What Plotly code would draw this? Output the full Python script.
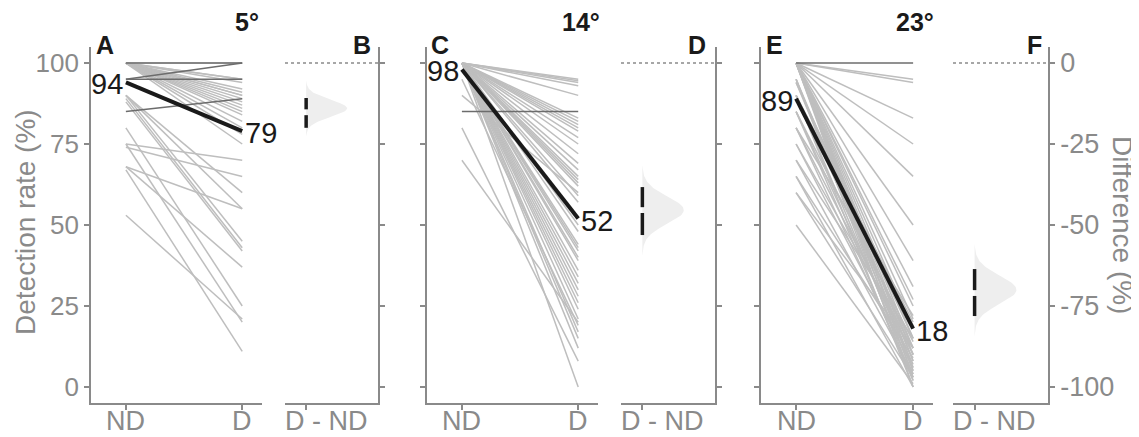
import numpy as np
import plotly.graph_objects as go

# ---------------- data ----------------
conditions = ["5°", "14°", "23°"]
panel_letters = [["A", "B"], ["C", "D"], ["E", "F"]]
x_categories = ["ND", "D"]
diff_category = ["D - ND"]
y_ticks = [0, 25, 50, 75, 100]
diff_ticks = [0, -25, -50, -75, -100]
diff_tick_text = ["0", "-25", "-50", "-75", "-100"]

# Panel A (5°) individual subjects
a_light_nd = [100, 100, 100, 100, 100, 100, 100, 100, 100, 100, 100, 100, 100, 100, 100, 100, 100, 100,
              90, 90, 90, 89, 88, 80, 75, 74, 75, 68, 67, 53, 68]
a_light_d = [100, 95, 95, 94, 92, 91, 90, 90, 89, 88, 87, 86, 85, 84, 82, 80, 78, 75,
             60, 55, 45, 43, 42, 25, 70, 65, 20, 37, 11, 21, 55]
a_dark_nd = [100, 95, 95, 85]
a_dark_d = [100, 100, 95, 89]

# Panel C (14°)
c_light_nd = [100, 100, 100, 100, 100, 100, 100, 100, 100, 100, 100, 100, 100, 100, 100, 100, 100, 100, 100,
              90, 100, 100, 100, 100, 100, 100, 100, 100, 100, 100, 100, 100, 100, 100, 100, 100,
              70, 100, 100, 100, 80, 100, 95, 100]
c_light_d = [95, 94.5, 94, 93, 90, 83, 82, 81, 80, 79, 77, 75, 72, 69, 67, 65, 64, 63, 62,
             60, 59, 57, 48, 44, 43, 42, 40, 39, 36, 34, 32, 30, 28, 26, 24, 21,
             20, 17, 15, 12, 8, 0, 19, 50]
c_dark_nd = [85]
c_dark_d = [85]

# Panel E (23°)
e_light_nd = [100, 100, 100, 100, 100, 100, 100, 100, 100, 100, 100, 100, 100, 100, 100, 100, 100, 100, 100, 100,
              95, 95, 95, 94, 94, 90, 90, 90, 90, 85, 85, 85, 80, 80, 80, 75, 75, 70, 70, 65, 65, 60, 60, 50]
e_light_d = [95, 94, 83, 75, 65, 50, 39, 31, 25, 21, 12, 8, 5, 3, 0, 10, 15, 6, 18, 27,
             10, 5, 2, 8, 15, 20, 12, 4, 0, 14, 7, 2, 22, 10, 3, 12, 6, 15, 4, 9, 0, 12, 3, 1]
e_dark_nd = [100]
e_dark_d = [100]

# group means (black lines)
mean_nd = [94, 98, 89]
mean_d = [79, 52, 18]

# bootstrap difference distributions (D - ND)
diff_mean = [-15.2, -45.4, -71.0]
diff_ci_high = [-10.8, -38.3, -63.6]
diff_ci_low = [-20.0, -53.1, -78.1]
dist_peak = [-14.0, -45.4, -70.0]
dist_sd = [2.6, 4.2, 4.3]

light_nd = [a_light_nd, c_light_nd, e_light_nd]
light_d = [a_light_d, c_light_d, e_light_d]
dark_nd = [a_dark_nd, c_dark_nd, e_dark_nd]
dark_d = [a_dark_d, c_dark_d, e_dark_d]

# ---------------- layout geometry (pixels of the 1139x437 page) ----------------
PAGE_W, PAGE_H = 1139, 437
OFF = 8  # default page body margin
W, H = PAGE_W - OFF, PAGE_H - OFF


def px_x(p):
    return (p - OFF) / W


def px_y(p):
    return 1 - (p - OFF) / H


FONT = "Liberation Sans, Arial, Helvetica, sans-serif"
GREY = "#8a8a8a"
LIGHT = "#bebebe"
DARK = "#6c6c6c"
BLACK = "#1a1a1a"

pair_px = [(91, 262), (427, 598), (761, 933)]
diff_px = [(285, 378), (621, 715), (953, 1048)]
y_top_px, y_bot_px = 47, 403
xlabel_y_px = 421
ydom = [px_y(y_bot_px), px_y(y_top_px)]
YR = [-4.94, 104.94]
DYR = [YR[0] - 100, YR[1] - 100]

fig = go.Figure()
layout = dict(
    width=W, height=H, autosize=False,
    margin=dict(l=0, r=0, t=0, b=0),
    paper_bgcolor="white", plot_bgcolor="white",
    showlegend=False,
    font=dict(family=FONT, color=GREY),
)
shapes = []
annotations = []


def seg_xy(nd, d):
    xs, ys = [], []
    for a, b in zip(nd, d):
        xs += [0, 1, None]
        ys += [a, b, None]
    return xs, ys


for i in range(3):
    pi = 2 * i + 1
    di = 2 * i + 2
    px_ = "x" if pi == 1 else f"x{pi}"
    py_ = "y" if pi == 1 else f"y{pi}"
    dx_ = f"x{di}"
    dy_ = f"y{di}"

    xs, ys = seg_xy(light_nd[i], light_d[i])
    fig.add_trace(go.Scatter(x=xs, y=ys, mode="lines", xaxis=px_, yaxis=py_,
                             line=dict(color=LIGHT, width=1.5), hoverinfo="skip"))
    xs, ys = seg_xy(dark_nd[i], dark_d[i])
    fig.add_trace(go.Scatter(x=xs, y=ys, mode="lines", xaxis=px_, yaxis=py_,
                             line=dict(color=DARK, width=1.5), hoverinfo="skip"))
    fig.add_trace(go.Scatter(x=[0, 1], y=[mean_nd[i], mean_d[i]], mode="lines",
                             xaxis=px_, yaxis=py_, line=dict(color=BLACK, width=4),
                             hoverinfo="skip"))

    yy = np.linspace(dist_peak[i] - 3.3 * dist_sd[i], dist_peak[i] + 3.3 * dist_sd[i], 90)
    dens = np.exp(-0.5 * ((yy - dist_peak[i]) / dist_sd[i]) ** 2) * 0.97
    vx = [0] + list(dens) + [0]
    vy = [yy[0]] + list(yy) + [yy[-1]]
    fig.add_trace(go.Scatter(x=vx, y=vy, mode="lines", fill="toself",
                             fillcolor="#eeeeee", line=dict(width=0, color="#eeeeee"),
                             xaxis=dx_, yaxis=dy_, hoverinfo="skip"))
    gap = 0.9
    fig.add_trace(go.Scatter(x=[0, 0, None, 0, 0],
                             y=[diff_ci_high[i], diff_mean[i] + gap, None,
                                diff_mean[i] - gap, diff_ci_low[i]],
                             mode="lines", line=dict(color=BLACK, width=3.5),
                             xaxis=dx_, yaxis=dy_, hoverinfo="skip"))

    shapes.append(dict(type="line", xref=f"{dx_} domain", x0=0, x1=1,
                       yref=dy_, y0=0, y1=0,
                       line=dict(color=GREY, width=1.6, dash="dot")))

    common_axis = dict(showline=True, linecolor=GREY, linewidth=1.6, ticks="outside",
                       ticklen=5, tickwidth=1.5, tickcolor=GREY, showgrid=False,
                       zeroline=False, automargin=False, fixedrange=True)
    layout[f"xaxis{'' if pi == 1 else pi}"] = dict(
        common_axis, domain=[px_x(pair_px[i][0]), px_x(pair_px[i][1])], anchor=py_,
        range=[-0.3, 1.17], tickvals=[0, 1], showticklabels=False)
    layout[f"yaxis{'' if pi == 1 else pi}"] = dict(
        common_axis, domain=ydom, anchor=px_, side="left", range=YR,
        tickvals=y_ticks, showticklabels=(i == 0),
        tickfont=dict(size=26, color=GREY, family=FONT))
    layout[f"xaxis{di}"] = dict(
        common_axis, domain=[px_x(diff_px[i][0]), px_x(diff_px[i][1])], anchor=dy_,
        range=[-0.5, 1.7], tickvals=[0], showticklabels=False)
    layout[f"yaxis{di}"] = dict(
        common_axis, domain=ydom, anchor=dx_, side="right", range=DYR,
        tickvals=diff_ticks, ticktext=diff_tick_text, showticklabels=(i == 2),
        tickfont=dict(size=27, color=GREY, family=FONT))

    # category labels under the axes
    for k, cat in enumerate(x_categories):
        annotations.append(dict(x=k, y=px_y(xlabel_y_px), xref=px_, yref="paper", text=cat,
                                showarrow=False, xanchor="center", yanchor="middle",
                                font=dict(size=27, color=GREY, family=FONT)))
    annotations.append(dict(x=0, y=px_y(xlabel_y_px), xref=f"{dx_} domain", yref="paper",
                            text=diff_category[0], showarrow=False, xanchor="left",
                            yanchor="middle", xshift=-2,
                            font=dict(size=27, color=GREY, family=FONT)))

    # mean labels
    annotations.append(dict(x=0, y=mean_nd[i], xref=px_, yref=py_, text=str(mean_nd[i]),
                            showarrow=False, xanchor="right", yanchor="middle",
                            xshift=-1, yshift=-2,
                            font=dict(size=29, color=BLACK, family=FONT)))
    annotations.append(dict(x=1, y=mean_d[i], xref=px_, yref=py_, text=str(mean_d[i]),
                            showarrow=False, xanchor="left", yanchor="middle",
                            xshift=1, yshift=-2,
                            font=dict(size=29, color=BLACK, family=FONT)))

letter_pos = [(105, 362), (440, 697), (774, 1034)]
title_pos = [247, 581, 915]
for i in range(3):
    for j in range(2):
        annotations.append(dict(x=px_x(letter_pos[i][j]), y=px_y(45), xref="paper", yref="paper",
                                text=f"<b>{panel_letters[i][j]}</b>", showarrow=False,
                                xanchor="center", yanchor="middle",
                                font=dict(size=25, color=BLACK, family=FONT)))
    annotations.append(dict(x=px_x(title_pos[i]), y=px_y(22), xref="paper", yref="paper",
                            text=f"<b>{conditions[i]}</b>", showarrow=False,
                            xanchor="center", yanchor="middle",
                            font=dict(size=25, color=BLACK, family=FONT)))

annotations.append(dict(x=px_x(25), y=px_y(222), xref="paper", yref="paper",
                        text="Detection rate (%)", textangle=-90, showarrow=False,
                        xanchor="center", yanchor="middle",
                        font=dict(size=28, color=GREY, family=FONT)))
annotations.append(dict(x=px_x(1123), y=px_y(225), xref="paper", yref="paper",
                        text="Difference (%)", textangle=90, showarrow=False,
                        xanchor="center", yanchor="middle",
                        font=dict(size=28, color=GREY, family=FONT)))

layout["shapes"] = shapes
layout["annotations"] = annotations
fig.update_layout(**layout)
fig.write_html("out.html")
